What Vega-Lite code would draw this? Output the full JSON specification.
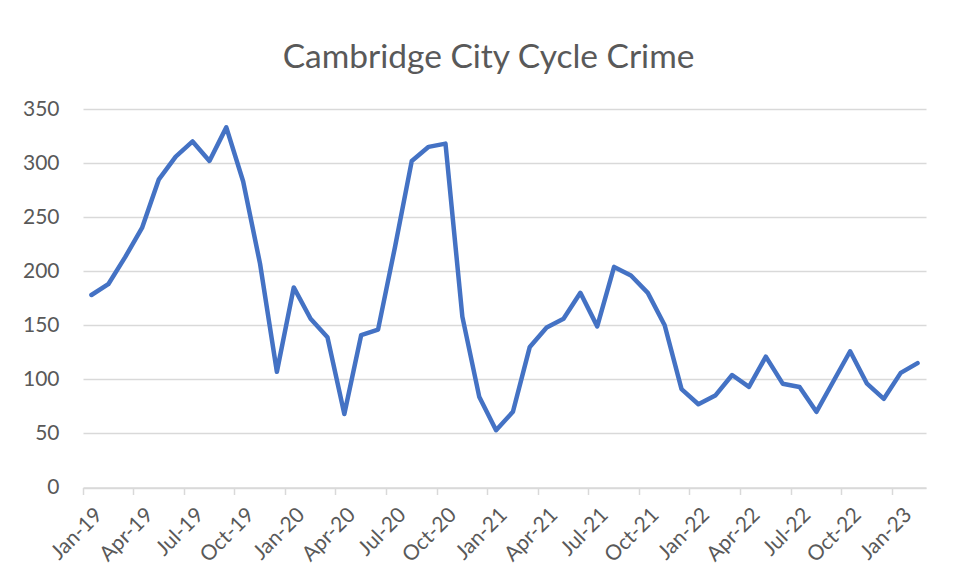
{
  "$schema": "https://vega.github.io/schema/vega-lite/v6.json",
  "autosize": "none",
  "width": 843,
  "height": 378.5,
  "padding": {"left": 83, "top": 109, "right": 29, "bottom": 94.5},
  "background": "white",
  "title": {
    "text": "Cambridge City Cycle Crime",
    "font": "Lato",
    "fontSize": 33.5,
    "fontWeight": "normal",
    "color": "#595959",
    "anchor": "middle",
    "dx": -16,
    "baseline": "alphabetic",
    "offset": -3
  },
  "config": {
    "view": {"stroke": null},
    "axis": {
      "labelFont": "Lato",
      "labelColor": "#595959",
      "labelFontSize": 21,
      "title": null
    }
  },
  "data": {
    "values": [
      {"month": "Jan-19", "crimes": 178},
      {"month": "Feb-19", "crimes": 188},
      {"month": "Mar-19", "crimes": 213},
      {"month": "Apr-19", "crimes": 240},
      {"month": "May-19", "crimes": 285},
      {"month": "Jun-19", "crimes": 306},
      {"month": "Jul-19", "crimes": 320},
      {"month": "Aug-19", "crimes": 302},
      {"month": "Sep-19", "crimes": 333},
      {"month": "Oct-19", "crimes": 283},
      {"month": "Nov-19", "crimes": 207},
      {"month": "Dec-19", "crimes": 107},
      {"month": "Jan-20", "crimes": 185},
      {"month": "Feb-20", "crimes": 156},
      {"month": "Mar-20", "crimes": 139},
      {"month": "Apr-20", "crimes": 68},
      {"month": "May-20", "crimes": 141},
      {"month": "Jun-20", "crimes": 146},
      {"month": "Jul-20", "crimes": 222},
      {"month": "Aug-20", "crimes": 302},
      {"month": "Sep-20", "crimes": 315},
      {"month": "Oct-20", "crimes": 318},
      {"month": "Nov-20", "crimes": 158},
      {"month": "Dec-20", "crimes": 84},
      {"month": "Jan-21", "crimes": 53},
      {"month": "Feb-21", "crimes": 70},
      {"month": "Mar-21", "crimes": 130},
      {"month": "Apr-21", "crimes": 148},
      {"month": "May-21", "crimes": 156},
      {"month": "Jun-21", "crimes": 180},
      {"month": "Jul-21", "crimes": 149},
      {"month": "Aug-21", "crimes": 204},
      {"month": "Sep-21", "crimes": 196},
      {"month": "Oct-21", "crimes": 180},
      {"month": "Nov-21", "crimes": 150},
      {"month": "Dec-21", "crimes": 91},
      {"month": "Jan-22", "crimes": 77},
      {"month": "Feb-22", "crimes": 85},
      {"month": "Mar-22", "crimes": 104},
      {"month": "Apr-22", "crimes": 93},
      {"month": "May-22", "crimes": 121},
      {"month": "Jun-22", "crimes": 96},
      {"month": "Jul-22", "crimes": 93},
      {"month": "Aug-22", "crimes": 70},
      {"month": "Sep-22", "crimes": 98},
      {"month": "Oct-22", "crimes": 126},
      {"month": "Nov-22", "crimes": 96},
      {"month": "Dec-22", "crimes": 82},
      {"month": "Jan-23", "crimes": 106},
      {"month": "Feb-23", "crimes": 115}
    ]
  },
  "mark": {
    "type": "line",
    "color": "#4472C4",
    "strokeWidth": 4.5,
    "strokeJoin": "round",
    "strokeCap": "round"
  },
  "encoding": {
    "x": {
      "field": "month",
      "type": "ordinal",
      "sort": null,
      "bandPosition": 0.5,
      "scale": {"type": "band", "paddingInner": 0, "paddingOuter": 0},
      "axis": {
        "values": ["Jan-19", "Apr-19", "Jul-19", "Oct-19", "Jan-20", "Apr-20", "Jul-20", "Oct-20", "Jan-21", "Apr-21", "Jul-21", "Oct-21", "Jan-22", "Apr-22", "Jul-22", "Oct-22", "Jan-23"],
        "bandPosition": 0,
        "labelAngle": -45,
        "labelAlign": "right",
        "labelBaseline": "middle",
        "labelPadding": 17,
        "labelOffset": 8,
        "domainColor": "#d9d9d9",
        "domainWidth": 1.5,
        "tickColor": "#d9d9d9",
        "tickWidth": 1.5,
        "tickSize": 7,
        "grid": false
      }
    },
    "y": {
      "field": "crimes",
      "type": "quantitative",
      "scale": {"domain": [0, 350], "nice": false},
      "axis": {
        "values": [0, 50, 100, 150, 200, 250, 300, 350],
        "domain": false,
        "ticks": false,
        "grid": true,
        "gridColor": "#d9d9d9",
        "gridWidth": 1.5,
        "labelPadding": 24
      }
    }
  }
}
